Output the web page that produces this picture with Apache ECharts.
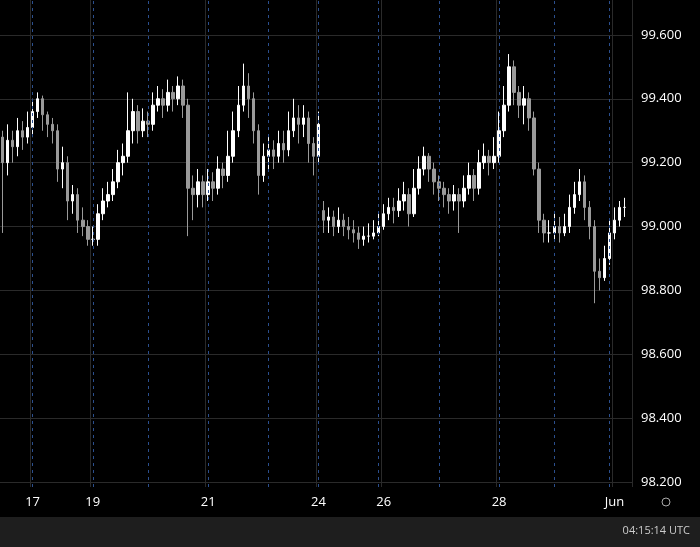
<!DOCTYPE html>
<html>
<head>
<meta charset="utf-8">
<style>html,body{margin:0;padding:0;background:#000;}#chart{width:700px;height:547px;}</style>
<script src="https://cdn.jsdelivr.net/npm/echarts@6/dist/echarts.min.js"></script>
</head>
<body>
<div id="chart"></div>
<script>
// closes, one candle every ~5px
var closes = [99.20,99.27,99.25,99.30,99.28,99.31,99.36,99.40,99.35,99.32,
  99.30,99.18,99.20,99.08,99.10,99.02,99.00,98.96,98.96,99.04,
  99.08,99.10,99.14,99.20,99.22,99.30,99.36,99.30,99.33,99.32,
  99.38,99.40,99.38,99.42,99.40,99.44,99.38,99.12,99.10,99.14,
  99.10,99.14,99.12,99.18,99.16,99.22,99.30,99.38,99.44,99.40,
  99.30,99.16,99.22,99.24,99.22,99.26,99.24,99.30,99.34,99.32,
  99.34,99.26,99.22,99.32,99.02,99.03,99.00,99.02,99.00,98.99,
  98.98,98.96,98.97,98.97,98.98,99.00,99.04,99.06,99.05,99.08,
  99.10,99.04,99.12,99.18,99.22,99.18,99.14,99.12,99.10,99.08,
  99.10,99.08,99.12,99.16,99.12,99.20,99.22,99.20,99.22,99.30,
  99.38,99.50,99.42,99.38,99.40,99.34,99.18,99.02,98.98,98.98,
  99.00,98.98,99.00,99.06,99.10,99.14,99.06,99.00,98.86,98.84,
  98.90,98.98,99.02,99.06,99.06];
var opens = [99.28,99.20,99.27,99.25,99.30,99.28,99.31,99.36,99.40,99.35,
  99.32,99.30,99.18,99.20,99.08,99.10,99.02,99.00,98.96,98.96,
  99.04,99.08,99.10,99.14,99.20,99.22,99.30,99.36,99.30,99.33,
  99.32,99.38,99.40,99.38,99.42,99.40,99.44,99.38,99.12,99.10,
  99.14,99.10,99.14,99.12,99.18,99.16,99.22,99.30,99.38,99.44,
  99.40,99.30,99.16,99.22,99.24,99.22,99.26,99.24,99.30,99.34,
  99.32,99.34,99.26,99.22,99.05,99.02,99.03,99.00,99.02,99.00,
  98.99,98.98,98.96,98.97,98.97,98.98,99.00,99.04,99.06,99.05,
  99.08,99.10,99.04,99.12,99.18,99.22,99.18,99.14,99.12,99.10,
  99.08,99.10,99.08,99.12,99.16,99.12,99.20,99.22,99.20,99.22,
  99.30,99.38,99.50,99.42,99.38,99.40,99.34,99.18,99.02,98.98,
  98.98,99.00,98.98,99.00,99.06,99.10,99.14,99.06,99.00,98.86,
  98.84,98.90,98.98,99.02,99.06];
var highs = [99.30,99.32,99.30,99.34,99.33,99.36,99.40,99.42,99.41,99.36,
  99.34,99.32,99.25,99.22,99.13,99.12,99.06,99.02,99.00,99.07,
  99.12,99.14,99.18,99.24,99.26,99.42,99.40,99.38,99.37,99.36,
  99.42,99.44,99.43,99.46,99.44,99.47,99.46,99.40,99.16,99.18,
  99.16,99.18,99.17,99.22,99.20,99.30,99.36,99.44,99.51,99.48,
  99.42,99.32,99.26,99.28,99.27,99.30,99.30,99.36,99.40,99.38,
  99.38,99.36,99.28,99.36,99.08,99.06,99.05,99.06,99.04,99.03,
  99.02,99.00,99.00,99.01,99.02,99.04,99.07,99.09,99.09,99.12,
  99.14,99.12,99.18,99.22,99.25,99.23,99.20,99.16,99.14,99.12,
  99.13,99.12,99.16,99.20,99.18,99.24,99.26,99.24,99.28,99.36,
  99.44,99.54,99.52,99.44,99.44,99.42,99.36,99.20,99.04,99.02,
  99.04,99.03,99.04,99.10,99.14,99.18,99.16,99.08,99.02,98.90,
  98.94,99.02,99.06,99.08,99.09];
var lows = [98.98,99.16,99.20,99.22,99.24,99.26,99.28,99.34,99.30,99.28,
  99.26,99.14,99.12,99.02,99.04,98.98,98.97,98.94,98.94,98.94,
  99.02,99.06,99.08,99.12,99.16,99.20,99.26,99.26,99.28,99.28,
  99.30,99.36,99.34,99.36,99.36,99.38,99.34,98.97,99.02,99.06,
  99.06,99.08,99.08,99.10,99.12,99.14,99.20,99.28,99.36,99.34,
  99.26,99.10,99.14,99.18,99.18,99.20,99.20,99.22,99.28,99.26,
  99.28,99.20,99.16,99.20,98.98,98.98,98.97,98.98,98.97,98.96,
  98.95,98.93,98.94,98.95,98.96,98.97,98.99,99.02,99.01,99.03,
  99.05,99.00,99.03,99.10,99.16,99.14,99.10,99.08,99.06,99.04,
  99.05,98.98,99.06,99.10,99.08,99.10,99.18,99.16,99.18,99.20,
  99.28,99.36,99.38,99.34,99.32,99.30,99.16,98.98,98.95,98.95,
  98.96,98.95,98.97,98.98,99.04,99.08,99.02,98.96,98.76,98.80,
  98.83,98.88,98.96,99.00,99.03];
var dayLabels = {6: '17', 18: '19', 41: '21', 63: '24', 76: '26', 99: '28', 122: 'Jun'};
var dashedAt = [6, 18, 29, 41, 53, 63, 75, 87, 99, 110, 121];

var cats = [];
var candles = [];
for (var i = 0; i < 126; i++) {
    cats.push(String(i));
    if (i < closes.length) {
        candles.push([opens[i], closes[i], lows[i], highs[i]]);
    } else {
        candles.push('-');
    }
}

var chart = echarts.init(document.getElementById('chart'));
var showDay = function (index) { return dayLabels[index] !== undefined; };
chart.setOption({
    backgroundColor: '#000',
    animation: false,
    grid: [
        {left: 0, right: 68, top: -29, height: 575, outerBoundsMode: 'none'},
        {left: 0, right: 68, top: 0, height: 487, outerBoundsMode: 'none'}
    ],
    xAxis: [
        {type: 'category', gridIndex: 0, data: cats, show: false},
        {
            type: 'category', gridIndex: 1, data: cats,
            axisLine: {show: false}, axisTick: {show: false},
            axisLabel: {
                interval: function (index) { return showDay(index); },
                formatter: function (v, idx) { return dayLabels[idx] || ''; },
                color: '#fff', fontSize: 13, margin: 9, fontFamily: 'Open Sans'
            },
            splitLine: {
                show: true,
                interval: function (index) { return showDay(index); },
                lineStyle: {color: '#2a2a2a', width: 1}
            }
        }
    ],
    yAxis: [
        {
            type: 'value', gridIndex: 0, position: 'right',
            min: 98.0, max: 99.8, interval: 0.2,
            axisLine: {show: false}, axisTick: {show: false},
            axisLabel: {
                color: '#fff', fontSize: 13, margin: 9, fontFamily: 'Open Sans',
                formatter: function (v) { return v.toFixed(3); }
            },
            splitLine: {lineStyle: {color: '#2a2a2a'}}
        },
        {type: 'value', gridIndex: 1, show: false, min: 0, max: 1}
    ],
    series: [
        {
            type: 'line', xAxisIndex: 1, yAxisIndex: 1, data: [], silent: true,
            markLine: {
                symbol: 'none', silent: true, label: {show: false},
                lineStyle: {color: '#2b4f8e', type: [3, 4], width: 1},
                data: dashedAt.map(function (d) { return {xAxis: d}; })
            }
        },
        {
            type: 'candlestick', xAxisIndex: 0, yAxisIndex: 0,
            data: candles, barWidth: 3,
            itemStyle: {
                color: '#ffffff', color0: '#9a9a9a',
                borderColor: '#ffffff', borderColor0: '#9a9a9a', borderWidth: 1
            }
        }
    ],
    graphic: [
        {type: 'rect', shape: {x: 0, y: 517, width: 700, height: 30}, style: {fill: '#1e1e1e'}, z: 100},
        {type: 'text', right: 10, top: 525, style: {text: '04:15:14 UTC', fill: '#ccc', fontSize: 11, fontFamily: 'Open Sans'}, z: 101},
        {type: 'circle', shape: {cx: 666, cy: 502, r: 4}, style: {fill: 'none', stroke: '#aaa', lineWidth: 1}, z: 101}
    ]
});
</script>
</body>
</html>
